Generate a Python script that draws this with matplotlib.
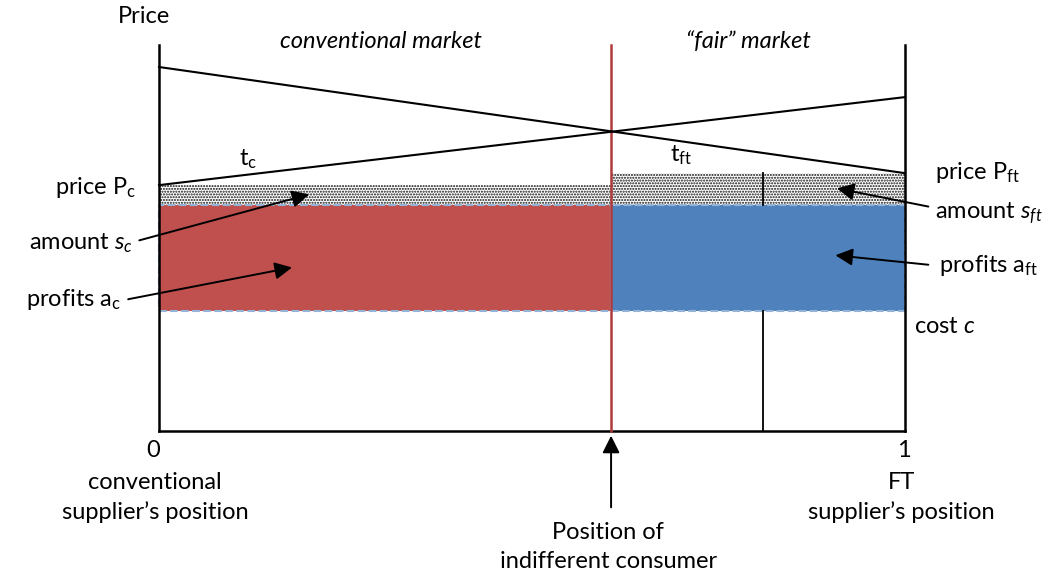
import matplotlib.pyplot as plt
from matplotlib.patches import Rectangle

plt.rcParams['font.family'] = ['Lato', 'DejaVu Sans']
plt.rcParams['mathtext.fontset'] = 'custom'
plt.rcParams['mathtext.rm'] = 'Lato'
plt.rcParams['mathtext.it'] = 'Lato:italic'
plt.rcParams['hatch.linewidth'] = 1.0

# positions on the line (0 = conventional supplier, 1 = FT supplier)
x_indiff = 0.606
x_mark = 0.81

# price levels (bottom axis = 0, top of axes = 10)
y_top = 10.0
price_c = 6.37
price_ft = 6.68
profit_top = 5.85
cost_c = 3.11

# transport-cost lines: value at x=0 and x=1
line_down = [9.43, 6.68]
line_up = [6.37, 8.65]

fig = plt.figure(figsize=(10.47, 5.76), dpi=100)
ax = fig.add_axes([0, 0, 1, 1])
ax.set_xlim(-159 / 746, 888 / 746)
ax.set_ylim(-145 / 38.6, 431 / 38.6)
ax.axis('off')

# shaded areas
ax.add_patch(Rectangle((0, profit_top), x_indiff, price_c - profit_top,
                       facecolor='white', edgecolor='#111111', hatch='......', lw=0))
ax.add_patch(Rectangle((x_indiff, profit_top), 1 - x_indiff, price_ft - profit_top,
                       facecolor='white', edgecolor='#111111', hatch='......', lw=0))
ax.add_patch(Rectangle((0, cost_c), x_indiff, profit_top - cost_c,
                       facecolor='#c0504d', edgecolor='#95b3d7', lw=1.5, ls='--'))
ax.add_patch(Rectangle((x_indiff, cost_c), 1 - x_indiff, profit_top - cost_c,
                       facecolor='#4f81bd', edgecolor='#95b3d7', lw=1.5, ls='--'))

# axes frame
ax.plot([0, 0], [0, y_top], color='black', lw=1.8)
ax.plot([1, 1], [0, y_top], color='black', lw=1.8)
ax.plot([0, 1], [0, 0], color='black', lw=1.8)
ax.plot([x_indiff, x_indiff], [0, y_top], color='#b03a3a', lw=1.8)
ax.plot([x_mark, x_mark], [profit_top, price_ft], color='black', lw=1.3)
ax.plot([x_mark, x_mark], [0, cost_c], color='black', lw=1.3)

# price lines
ax.plot([0, 1], line_down, color='black', lw=1.5)
ax.plot([0, 1], line_up, color='black', lw=1.5)

fs = 17
ax.text(-0.02, 10.75, 'Price', fontsize=fs, ha='center', va='center')
ax.text(0.297, 10.1, 'conventional market', fontsize=fs, style='italic', ha='center', va='center')
ax.text(0.79, 10.1, '\u201cfair\u201d market', fontsize=fs, style='italic', ha='center', va='center')
ax.text(0.12, 7.05, r'$\mathregular{t_c}$', fontsize=fs, ha='center', va='center')
ax.text(0.7, 7.15, r'$\mathregular{t_{ft}}$', fontsize=fs, ha='center', va='center')
ax.text(-0.03, 6.3, r'price $\mathregular{P_c}$', fontsize=fs, ha='right', va='center')
ax.text(1.04, 6.7, r'price $\mathregular{P_{ft}}$', fontsize=fs, ha='left', va='center')
ax.text(-0.035, 4.87, r'amount $\mathit{s_c}$', fontsize=fs, ha='right', va='center')
ax.text(-0.05, 3.4, r'profits $\mathregular{a_c}$', fontsize=fs, ha='right', va='center')
ax.text(1.04, 5.65, r'amount $\mathit{s_{ft}}$', fontsize=fs, ha='left', va='center')
ax.text(1.045, 4.3, r'profits $\mathregular{a_{ft}}$', fontsize=fs, ha='left', va='center')
ax.text(1.012, 2.7, r'cost $\mathit{c}$', fontsize=fs, ha='left', va='center')

ax.text(-0.008, -0.5, '0', fontsize=fs, ha='center', va='center')
ax.text(0.998, -0.5, '1', fontsize=fs, ha='center', va='center')
ax.text(-0.005, -1.72, 'conventional\nsupplier\u2019s position', fontsize=fs,
        ha='center', va='center', linespacing=1.5)
ax.text(0.995, -1.72, 'FT\nsupplier\u2019s position', fontsize=fs,
        ha='center', va='center', linespacing=1.5)
ax.text(0.602, -3.0, 'Position of\nindifferent consumer', fontsize=fs,
        ha='center', va='center', linespacing=1.5)

# arrows
arr = dict(arrowstyle='-|>', color='black', lw=1.4, mutation_scale=26)
ax.annotate('', xy=(0.205, 6.15), xytext=(-0.03, 4.92), arrowprops=arr)
ax.annotate('', xy=(0.182, 4.25), xytext=(-0.045, 3.4), arrowprops=arr)
ax.annotate('', xy=(0.905, 6.3), xytext=(1.035, 5.8), arrowprops=arr)
ax.annotate('', xy=(0.903, 4.56), xytext=(1.035, 4.3), arrowprops=arr)
ax.annotate('', xy=(x_indiff, -0.05), xytext=(x_indiff, -2.05), arrowprops=arr)

fig.savefig('out.png', dpi=100)
